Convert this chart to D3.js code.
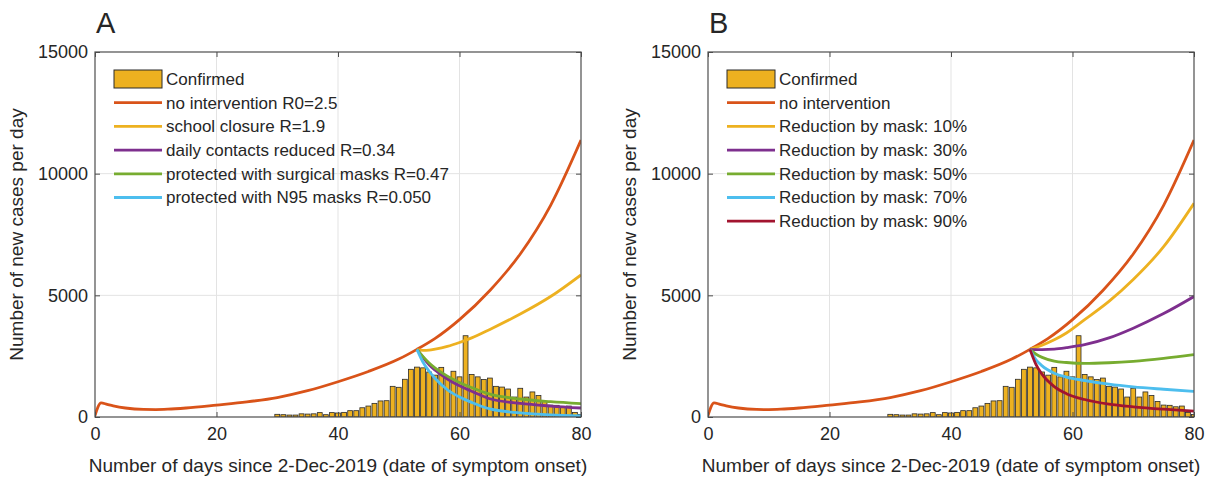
<!DOCTYPE html>
<html><head><meta charset="utf-8">
<script src="https://cdn.jsdelivr.net/npm/d3@7/dist/d3.min.js"></script>
<style>
body{margin:0;background:#fff}
svg{display:block}
text{font-family:"Liberation Sans",Arial,Helvetica,sans-serif;fill:#262626}
</style>
</head><body>
<svg id="chart" width="1211" height="480"></svg>
<script>
// ---------- data ----------
const days = [30,31,32,33,34,35,36,37,38,39,40,41,42,43,44,45,46,47,48,49,50,51,52,53,54,55,56,57,58,59,60,61,62,63,64,65,66,67,68,69,70,71,72,73,74,75,76,77,78,79,80];
const confirmed = [110,95,80,80,130,120,130,180,95,180,165,190,260,260,380,450,560,660,670,1260,1220,1550,1960,2050,2020,1850,1720,2040,1650,1880,1650,3340,1750,1650,1540,1600,1260,1230,1150,820,1180,820,1030,880,640,490,480,420,450,190,100];

const xTicks = [0,20,40,60,80];
const yTicks = [0,5000,10000,15000];

// baseline epidemic (no intervention)
const baseDays = [0,1,2,3,5,8,10,12,15,20,25,30,35,40,45,50,53,56,60,65,70,75,80];
const baseVals = [60,580,520,460,370,310,305,320,370,490,620,800,1080,1450,1870,2380,2780,3230,4000,5200,6700,8700,11380];

// Panel A scenarios (start at day 53)
const scenDaysA = [53,54,55,56,58,60,62,65,70,75,80];
const schoolA   = [2780,2740,2750,2790,2900,3060,3250,3600,4230,4950,5840];
const contactsA = [2780,2450,2150,1920,1560,1280,1060,750,560,450,370];
const surgicalA = [2780,2480,2220,2010,1680,1420,1210,940,740,630,550];
const n95A      = [2780,2250,1880,1580,1120,820,600,330,170,90,50];

const labelsA = ["no intervention R0=2.5","school closure R=1.9","daily contacts reduced R=0.34","protected with surgical masks R=0.47","protected with N95 masks R=0.050"];

// Panel B scenarios (start at day 53)
const scenDaysB = [53,54,55,57,59,62,66,70,75,80];
const mask10 = [2780,2860,2950,3170,3450,4000,4750,5650,7000,8780];
const mask30 = [2780,2770,2770,2790,2850,2970,3250,3650,4250,4950];
const mask50 = [2780,2580,2450,2300,2240,2200,2230,2290,2410,2560];
const mask70 = [2780,2350,2100,1800,1640,1500,1350,1240,1140,1050];
const mask90 = [2780,2150,1750,1250,960,720,530,420,320,240];

const labelsB = ["no intervention","Reduction by mask: 10%","Reduction by mask: 30%","Reduction by mask: 50%","Reduction by mask: 70%","Reduction by mask: 90%"];

const colors = {red:"#D95319", yellow:"#EDB120", purple:"#7E2F8E", green:"#77AC30", cyan:"#4DBEEE", crimson:"#A2142F"};

// ---------- drawing ----------
const svg = d3.select("#chart");
const plotTop = 52, plotBottom = 417;

function panel(opts){
  const g = svg.append("g");
  const x = d3.scaleLinear().domain([0,80]).range([opts.left, opts.right]);
  const y = d3.scaleLinear().domain([0,15000]).range([plotBottom, plotTop]);
  const clipId = "clip"+opts.letter;
  svg.append("clipPath").attr("id",clipId).append("rect")
    .attr("x",opts.left).attr("y",plotTop).attr("width",opts.right-opts.left).attr("height",plotBottom-plotTop);

  // grid
  g.append("g").selectAll("line").data(xTicks.slice(1,-1)).join("line")
    .attr("x1",d=>x(d)).attr("x2",d=>x(d)).attr("y1",plotTop).attr("y2",plotBottom)
    .attr("stroke","#e3e3e3").attr("stroke-width",1);
  g.append("g").selectAll("line").data(yTicks.slice(1,-1)).join("line")
    .attr("y1",d=>y(d)).attr("y2",d=>y(d)).attr("x1",opts.left).attr("x2",opts.right)
    .attr("stroke","#e3e3e3").attr("stroke-width",1);

  // bars
  const bw = (x(1)-x(0))*0.8;
  g.append("g").attr("clip-path",`url(#${clipId})`).selectAll("rect").data(days.map((d,i)=>[d,confirmed[i]])).join("rect")
    .attr("x",d=>x(d[0])-bw/2).attr("width",bw)
    .attr("y",d=>y(d[1])).attr("height",d=>y(0)-y(d[1]))
    .attr("fill",colors.yellow).attr("stroke","#2a2a2a").attr("stroke-width",0.8);

  // lines
  const line = d3.line().x(d=>x(d[0])).y(d=>y(d[1])).curve(d3.curveMonotoneX);
  const lg = g.append("g").attr("clip-path",`url(#${clipId})`);
  opts.series.forEach(s=>{
    lg.append("path").datum(s.days.map((d,i)=>[d,s.vals[i]]))
      .attr("d",line).attr("fill","none").attr("stroke",s.color)
      .attr("stroke-width",2.8).attr("stroke-linejoin","round");
  });

  // axes with inward ticks
  const fmt = d3.format("d");
  const ax = g.append("g").attr("transform",`translate(0,${plotBottom})`)
    .call(d3.axisBottom(x).tickValues(xTicks).tickSize(-5).tickPadding(10).tickFormat(fmt));
  const ay = g.append("g").attr("transform",`translate(${opts.left},0)`)
    .call(d3.axisLeft(y).tickValues(yTicks).tickSize(-5).tickPadding(7).tickFormat(fmt));
  const axT = g.append("g").attr("transform",`translate(0,${plotTop})`)
    .call(d3.axisTop(x).tickValues(xTicks).tickSize(-5).tickFormat(""));
  const ayR = g.append("g").attr("transform",`translate(${opts.right},0)`)
    .call(d3.axisRight(y).tickValues(yTicks).tickSize(-5).tickFormat(""));
  [ax,ay,axT,ayR].forEach(a=>{
    a.select(".domain").remove();
    a.selectAll("line").attr("stroke","#4d4d4d");
    a.selectAll("text").style("font-size","18px").attr("fill","#262626")
      .style("font-family","'Liberation Sans',Arial,sans-serif");
  });
  g.append("rect").attr("x",opts.left).attr("y",plotTop).attr("width",opts.right-opts.left).attr("height",plotBottom-plotTop)
    .attr("fill","none").attr("stroke","#4d4d4d").attr("stroke-width",1.2);

  // axis labels
  g.append("text").attr("x",(opts.left+opts.right)/2).attr("y",472).attr("text-anchor","middle")
    .style("font-size","19px").text("Number of days since 2-Dec-2019 (date of symptom onset)");
  g.append("text").attr("transform",`translate(${opts.left-72},${(plotTop+plotBottom)/2}) rotate(-90)`)
    .attr("text-anchor","middle").style("font-size","19px").text("Number of new cases per day");

  // panel letter
  g.append("text").attr("x",opts.left+1).attr("y",33).style("font-size","29px").text(opts.letter);

  // legend
  const lx = opts.left+19, ly0 = 79, dy = 23.7;
  const leg = g.append("g");
  leg.append("rect").attr("x",lx).attr("y",ly0-9).attr("width",48).attr("height",18)
    .attr("fill",colors.yellow).attr("stroke","#2a2a2a").attr("stroke-width",1);
  leg.append("text").attr("x",lx+52).attr("y",ly0).attr("dy","0.35em").style("font-size","17px").text("Confirmed");
  opts.series.forEach((s,i)=>{
    const yy = ly0 + dy*(i+1);
    leg.append("line").attr("x1",lx).attr("x2",lx+48).attr("y1",yy).attr("y2",yy)
      .attr("stroke",s.color).attr("stroke-width",2.8);
    leg.append("text").attr("x",lx+52).attr("y",yy).attr("dy","0.35em").style("font-size","17px").text(s.label);
  });
}

panel({letter:"A", left:95, right:581, series:[
  {days:baseDays, vals:baseVals, color:colors.red, label:labelsA[0]},
  {days:scenDaysA, vals:schoolA, color:colors.yellow, label:labelsA[1]},
  {days:scenDaysA, vals:contactsA, color:colors.purple, label:labelsA[2]},
  {days:scenDaysA, vals:surgicalA, color:colors.green, label:labelsA[3]},
  {days:scenDaysA, vals:n95A, color:colors.cyan, label:labelsA[4]}
]});
panel({letter:"B", left:708, right:1194, series:[
  {days:baseDays, vals:baseVals, color:colors.red, label:labelsB[0]},
  {days:scenDaysB, vals:mask10, color:colors.yellow, label:labelsB[1]},
  {days:scenDaysB, vals:mask30, color:colors.purple, label:labelsB[2]},
  {days:scenDaysB, vals:mask50, color:colors.green, label:labelsB[3]},
  {days:scenDaysB, vals:mask70, color:colors.cyan, label:labelsB[4]},
  {days:scenDaysB, vals:mask90, color:colors.crimson, label:labelsB[5]}
]});
</script>
</body></html>
